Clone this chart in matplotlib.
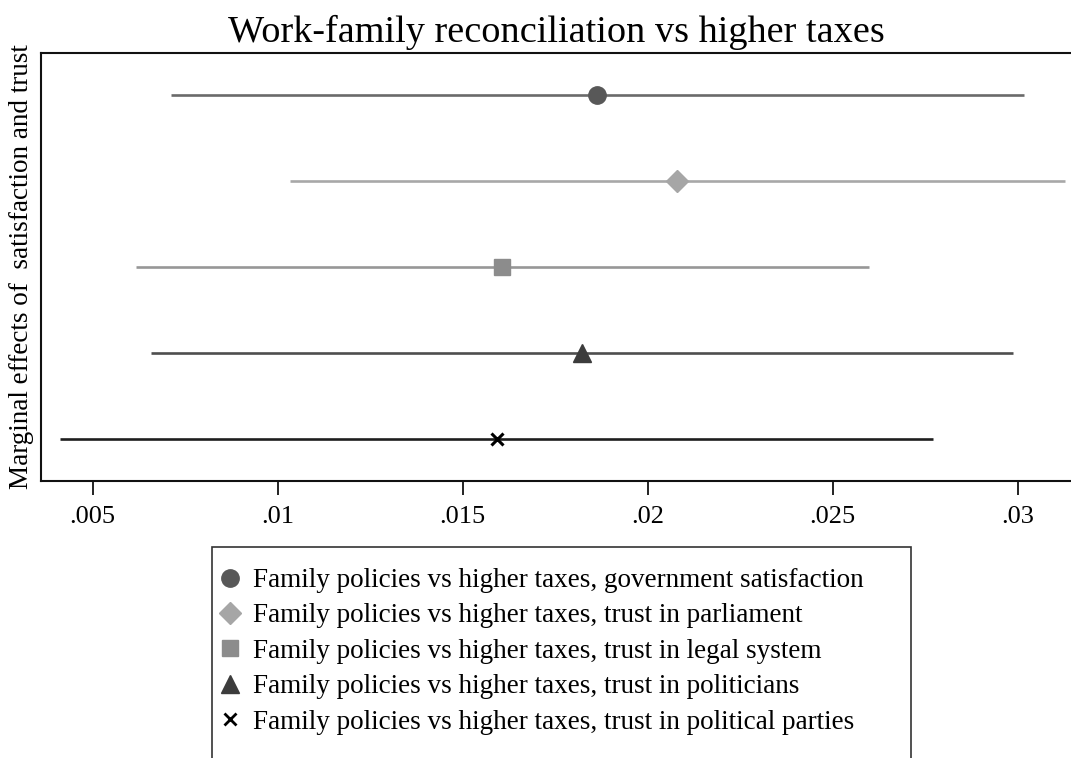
import numpy as np
import matplotlib.pyplot as plt
from matplotlib.lines import Line2D
from matplotlib.patches import Rectangle

plt.rcParams['font.family'] = ['Liberation Serif', 'DejaVu Serif']

# Marginal effects with 95% confidence intervals, top row first
labels = [
    "Family policies vs higher taxes, government satisfaction",
    "Family policies vs higher taxes, trust in parliament",
    "Family policies vs higher taxes, trust in legal system",
    "Family policies vs higher taxes, trust in politicians",
    "Family policies vs higher taxes, trust in political parties",
]
estimate = [0.01863, 0.02079, 0.01607, 0.01823, 0.01592]
ci_low = [0.00712, 0.01034, 0.00617, 0.00658, 0.00412]
ci_high = [0.03017, 0.03128, 0.02598, 0.02987, 0.02771]

markers = ['o', 'D', 's', '^', 'x']
marker_sizes = [12.5, 11, 12, 13, 8]
marker_colors = ['#585858', '#a6a6a6', '#8c8c8c', '#3c3c3c', '#000000']
line_colors = ['#6a6a6a', '#a8a8a8', '#979797', '#4e4e4e', '#1e1e1e']

rows = np.arange(len(labels))[::-1] + 1

W, H = 1071, 758
fig = plt.figure(figsize=(W / 100, H / 100), dpi=100)
ax = fig.add_axes([41 / W, 1 - 481 / H, 1 - 41 / W, (481 - 53) / H])

for i, y in enumerate(rows):
    ax.hlines(y, ci_low[i], ci_high[i], color=line_colors[i], lw=1.9, zorder=2)
    ax.plot(estimate[i], y, marker=markers[i], ms=marker_sizes[i],
            color=marker_colors[i], mec=marker_colors[i],
            mew=2.2 if markers[i] == 'x' else 1, ls='none', zorder=3)

ax.set_xlim(0.003603, 0.03144)
ax.set_ylim(0.51, 5.49)
ax.set_xticks([0.005, 0.01, 0.015, 0.02, 0.025, 0.03])
ax.set_xticklabels(['.005', '.01', '.015', '.02', '.025', '.03'], fontsize=19)
ax.set_yticks([])
ax.tick_params(axis='x', length=10, width=1.4, pad=8, color='#222222')
ax.spines['right'].set_visible(False)
for side in ['left', 'bottom', 'top']:
    ax.spines[side].set_linewidth(1.5)
    ax.spines[side].set_color('#111111')

ax.set_ylabel("Marginal effects of  satisfaction and trust", fontsize=19.5, labelpad=5)
ax.set_title("Work-family reconciliation vs higher taxes", fontsize=27.5, pad=8)

# legend box runs off the bottom edge, so draw the frame separately
fig.add_artist(Rectangle((212 / W, -20 / H), (911 - 212) / W, (20 + H - 547) / H,
                         transform=fig.transFigure, fill=False,
                         ec='#333333', lw=1.2, clip_on=False))

handles = [Line2D([], [], marker=markers[i], ms=marker_sizes[i],
                  color=marker_colors[i], mec=marker_colors[i],
                  mew=2.0 if markers[i] == 'x' else 1, ls='none')
           for i in range(len(labels))]
leg = fig.legend(handles, labels, loc='upper left',
                 bbox_to_anchor=(222 / W, 1 - 568 / H),
                 fontsize=19.5, frameon=False, borderpad=0, borderaxespad=0,
                 labelspacing=0.385, handlelength=0.6, handletextpad=0.55)

fig.savefig('out.png', dpi=100)
